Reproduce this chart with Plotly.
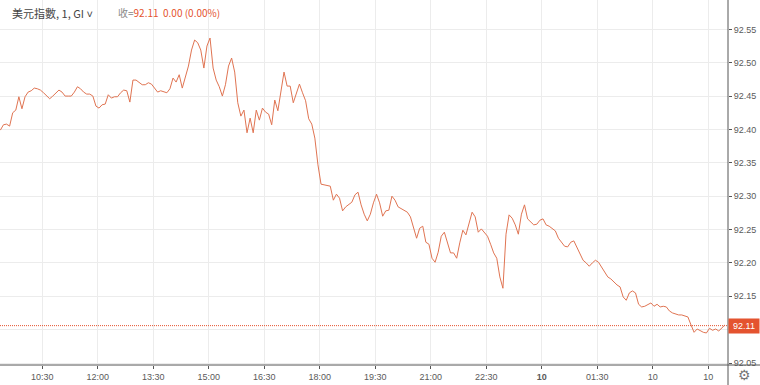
import datetime as dt
import plotly.graph_objects as go

# ---- data ----
start_time = dt.datetime(2018, 1, 9, 9, 22)
step_minutes = 5
prices = [
    92.399, 92.407, 92.408, 92.405, 92.425, 92.429, 92.449, 92.431, 92.449, 92.456,
    92.458, 92.462, 92.461, 92.459, 92.455, 92.450, 92.446, 92.450, 92.455, 92.459,
    92.456, 92.450, 92.450, 92.450, 92.456, 92.464, 92.461, 92.456, 92.453, 92.453,
    92.450, 92.435, 92.432, 92.437, 92.438, 92.452, 92.447, 92.449, 92.449, 92.455,
    92.459, 92.458, 92.441, 92.474, 92.474, 92.470, 92.467, 92.467, 92.470, 92.468,
    92.462, 92.456, 92.458, 92.456, 92.455, 92.461, 92.477, 92.471, 92.482, 92.462,
    92.480, 92.495, 92.519, 92.534, 92.530, 92.519, 92.492, 92.525, 92.537, 92.492,
    92.474, 92.464, 92.450, 92.467, 92.495, 92.507, 92.486, 92.440, 92.420, 92.429,
    92.395, 92.417, 92.395, 92.429, 92.414, 92.432, 92.426, 92.423, 92.407, 92.444,
    92.428, 92.456, 92.486, 92.465, 92.465, 92.440, 92.455, 92.468, 92.455, 92.443,
    92.416, 92.408, 92.387, 92.347, 92.318, 92.317, 92.315, 92.315, 92.294, 92.303,
    92.297, 92.278, 92.284, 92.288, 92.291, 92.302, 92.306, 92.287, 92.273, 92.263,
    92.273, 92.290, 92.303, 92.290, 92.270, 92.278, 92.279, 92.300, 92.294, 92.284,
    92.281, 92.278, 92.276, 92.269, 92.252, 92.237, 92.252, 92.255, 92.231, 92.228,
    92.207, 92.201, 92.216, 92.240, 92.246, 92.230, 92.215, 92.215, 92.207, 92.230,
    92.249, 92.242, 92.258, 92.276, 92.269, 92.246, 92.251, 92.246, 92.240, 92.228,
    92.215, 92.207, 92.179, 92.162, 92.243, 92.272, 92.267, 92.257, 92.243, 92.273,
    92.287, 92.266, 92.261, 92.257, 92.258, 92.264, 92.266, 92.257, 92.255, 92.252,
    92.248, 92.237, 92.230, 92.225, 92.224, 92.231, 92.233, 92.224, 92.215, 92.204,
    92.200, 92.195, 92.200, 92.204, 92.201, 92.194, 92.186, 92.179, 92.176, 92.171,
    92.167, 92.164, 92.149, 92.144, 92.155, 92.158, 92.155, 92.138, 92.134, 92.135,
    92.137, 92.140, 92.135, 92.138, 92.134, 92.135, 92.134, 92.128, 92.125, 92.123,
    92.122, 92.122, 92.120, 92.119, 92.107, 92.096, 92.101, 92.098, 92.096, 92.095,
    92.102, 92.099, 92.101, 92.098, 92.102, 92.107,
]
last_line_value = 92.106
last_price_text = "92.11"
change_text = "0.00 (0.00%)"
title_text = "美元指數, 1, GI"

tick_times = [
    "2018-01-09 10:30", "2018-01-09 12:00", "2018-01-09 13:30", "2018-01-09 15:00",
    "2018-01-09 16:30", "2018-01-09 18:00", "2018-01-09 19:30", "2018-01-09 21:00",
    "2018-01-09 22:30", "2018-01-10 00:00", "2018-01-10 01:30", "2018-01-10 03:00",
    "2018-01-10 04:30",
]
tick_labels = ["10:30", "12:00", "13:30", "15:00", "16:30", "18:00", "19:30",
               "21:00", "22:30", "<b>10</b>", "01:30", "10", "10"]
y_ticks = [92.05, 92.10, 92.15, 92.20, 92.25, 92.30, 92.35, 92.40, 92.45, 92.50, 92.55]
y_tick_labels = ["92.05", "", "92.15", "92.20", "92.25", "92.30", "92.35",
                 "92.40", "92.45", "92.50", "92.55"]

times = [start_time + dt.timedelta(minutes=step_minutes * i) for i in range(len(prices))]

LINE = "#e07452"
RED = "#e4532f"
AXIS = "#555555"
GRID = "#ececec"
TICKC = "#5a5a5a"
FONT = "Liberation Sans, Arial, sans-serif"

W, H = 760, 385
ML, MR, MT, MB = 0, 32, 0, 20
PW, PH = W - ML - MR, H - MT - MB

fig = go.Figure()
fig.add_trace(go.Scatter(x=times, y=prices, mode="lines",
                         line=dict(color=LINE, width=1), hoverinfo="skip"))

fig.update_layout(
    width=W, height=H,
    margin=dict(l=ML, r=MR, t=MT, b=MB),
    paper_bgcolor="white", plot_bgcolor="white",
    showlegend=False,
    font=dict(family=FONT, size=9, color=TICKC),
)
fig.update_xaxes(
    type="date",
    range=["2018-01-09 09:21:24", "2018-01-10 05:02:00"],
    tickvals=tick_times, ticktext=tick_labels,
    showgrid=True, gridcolor=GRID, gridwidth=1,
    showline=False, zeroline=False,
    ticks="outside", ticklen=3, tickcolor=AXIS,
    tickfont=dict(family=FONT, size=9, color=TICKC),
)
fig.update_yaxes(
    side="right",
    range=[92.047, 92.594],
    tickvals=y_ticks, ticktext=y_tick_labels,
    showgrid=True, gridcolor=GRID, gridwidth=1,
    showline=False, zeroline=False,
    ticks="outside", ticklen=3, tickcolor=AXIS,
    tickfont=dict(family=FONT, size=9, color=TICKC),
)

# axis lines extending into the margins
fig.add_shape(type="line", xref="paper", yref="paper",
              x0=0, x1=(PW + MR) / PW, y0=0, y1=0,
              line=dict(color=AXIS, width=1))
fig.add_shape(type="line", xref="paper", yref="paper",
              x0=1, x1=1, y0=-MB / PH, y1=1,
              line=dict(color=AXIS, width=1))
# last price dotted line
fig.add_shape(type="line", xref="paper", yref="y",
              x0=0, x1=1, y0=last_line_value, y1=last_line_value,
              line=dict(color=RED, width=1, dash="1px,1px"))

# last price label
fig.add_annotation(xref="paper", yref="y", x=1, y=last_line_value,
                   xanchor="left", yanchor="middle", showarrow=False,
                   text=last_price_text, bgcolor=RED, borderpad=2,
                   width=26, font=dict(family=FONT, size=9, color="white"))

# header
fig.add_annotation(xref="paper", yref="paper", x=10 / PW, y=1 - 13 / PH,
                   xanchor="left", yanchor="middle", showarrow=False,
                   text=title_text + " ˅",
                   font=dict(family="Noto Sans CJK TC, sans-serif", size=11, color="#444444"))
fig.add_annotation(xref="paper", yref="paper", x=116 / PW, y=1 - 13 / PH,
                   xanchor="left", yanchor="middle", showarrow=False,
                   text=("<span style='color:#888888'>收=</span>"
                         f"<span style='color:{RED}'>{last_price_text}</span>"
                         f"<span style='color:{RED}'>  {change_text}</span>"),
                   font=dict(family="Noto Sans CJK TC, sans-serif", size=10, color=RED))

# settings gear
fig.add_annotation(xref="paper", yref="paper", x=(PW + 16) / PW, y=-10 / PH,
                   xanchor="center", yanchor="middle", showarrow=False,
                   text="⚙", font=dict(family="DejaVu Sans", size=14, color="#777777"))

fig.write_html("out.html")
